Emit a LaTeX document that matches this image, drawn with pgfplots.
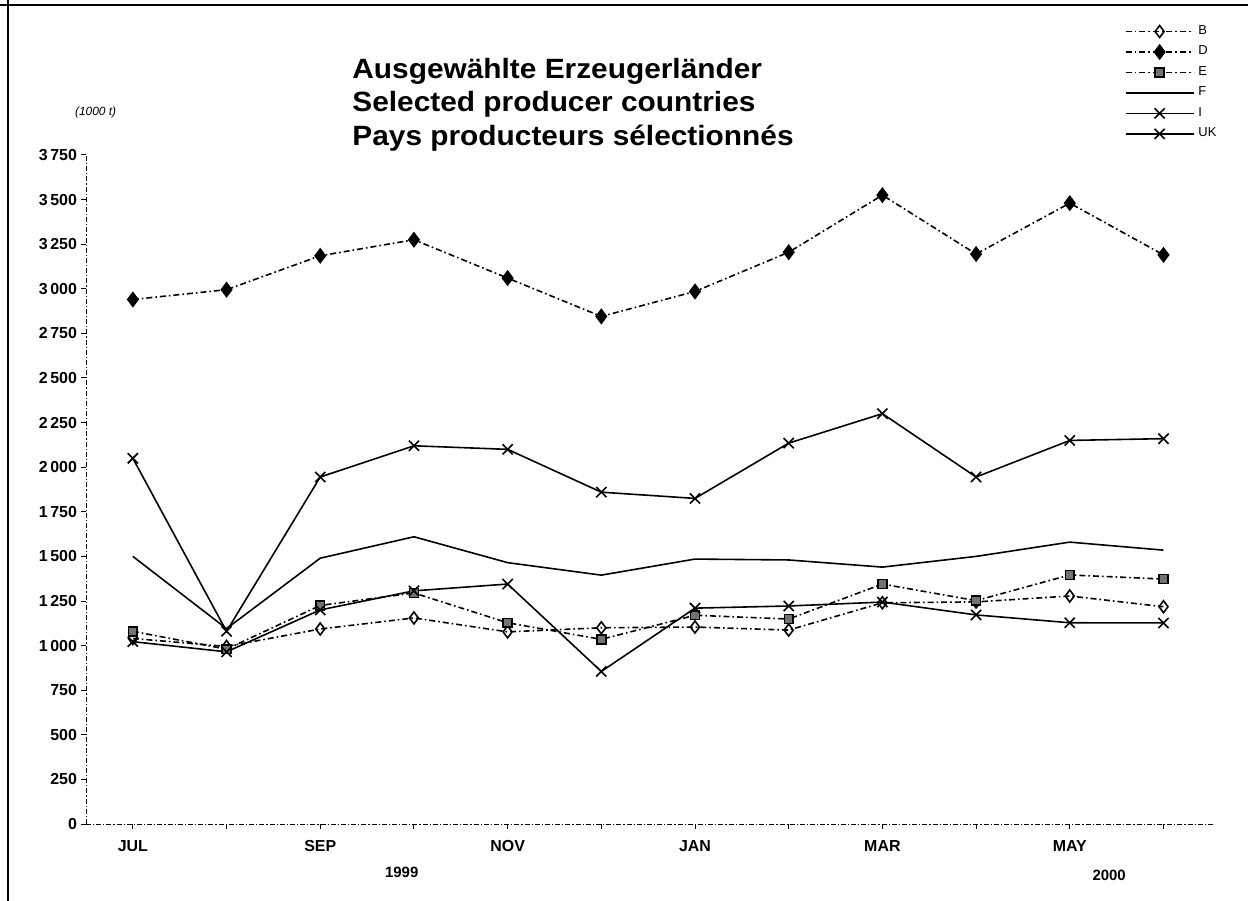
\documentclass[border=0pt]{standalone}
\usepackage{pgfplots}
\pgfplotsset{compat=1.18}
\usepackage{fontspec}
\setmainfont{Liberation Sans}
\setsansfont{Liberation Sans}
\newfontfamily\titlefont[FakeStretch=1.07]{Liberation Sans}
\begin{document}
\begin{tikzpicture}[font=\sffamily]
\useasboundingbox (-43bp,-38.5bp) rectangle (581bp,412bp);
\draw[line width=1pt] (-43bp,409.5bp) -- (581bp,409.5bp);
\draw[line width=1pt] (-39bp,412bp) -- (-39bp,-38.5bp);
\begin{axis}[
  scale only axis, width=564.5bp, height=334.5bp,
  xmin=-0.5, xmax=11.55, ymin=0, ymax=3750,
  axis x line*=bottom, axis y line*=left,
  axis line style={-, line width=0.5pt, dash pattern=on 2.5bp off 1bp on 0.6bp off 1bp},
  ytick={0,250,...,3750},
  xtick={0,...,11},
  xticklabels={JUL,,SEP,,NOV,,JAN,,MAR,,MAY,},
  tick align=outside, major tick length=2.5bp,
  tick style={black, line width=0.5pt},
  /pgf/number format/assume math mode=true,
  /pgf/number format/1000 sep={\,},
  yticklabel style={font=\sffamily\bfseries\fontsize{8}{9}\selectfont, xshift=1.5bp},
  xticklabel style={font=\sffamily\bfseries\fontsize{8}{9}\selectfont, yshift=-2bp},
  clip=false,
  legend style={at={(axis description cs:0.918,1.203)}, anchor=north west, draw=none, fill=none,
    font=\sffamily\fontsize{6.5}{7}\selectfont, row sep=0.3bp, inner sep=1bp},
  legend cell align=left,
  legend image code/.code={\draw[mark repeat=2,mark phase=2] plot coordinates {(0bp,0bp) (17bp,0bp) (34bp,0bp)};},
  every axis plot/.append style={line width=0.8pt, black},
]
\addplot[dash pattern=on 3bp off 1.5bp on 0.8bp off 1.5bp, mark=diamond, mark size=3bp, mark options={solid, fill=white}]
  coordinates {(0,1040)(1,995)(2,1093)(3,1155)(4,1077)(5,1100)(6,1104)(7,1087)(8,1240)(9,1245)(10,1278)(11,1218)};
\addlegendentry{B}
\addplot[dash pattern=on 3bp off 1.5bp on 0.8bp off 1.5bp, mark=diamond*, mark size=3.4bp, mark options={solid, fill=black}]
  coordinates {(0,2940)(1,2995)(2,3185)(3,3275)(4,3060)(5,2845)(6,2985)(7,3205)(8,3525)(9,3195)(10,3480)(11,3190)};
\addlegendentry{D}
\addplot[dash pattern=on 3bp off 1.5bp on 0.8bp off 1.5bp, mark=square*, mark size=2.2bp, mark options={solid, fill=black!55, draw=black}]
  coordinates {(0,1080)(1,980)(2,1225)(3,1295)(4,1128)(5,1035)(6,1170)(7,1149)(8,1345)(9,1252)(10,1396)(11,1373)};
\addlegendentry{E}
\addplot[solid]
  coordinates {(0,1500)(1,1095)(2,1490)(3,1610)(4,1465)(5,1395)(6,1485)(7,1480)(8,1440)(9,1500)(10,1580)(11,1535)};
\addlegendentry{F}
\addplot[solid, mark=x, mark size=3.6bp, mark options={solid}]
  coordinates {(0,2050)(1,1080)(2,1945)(3,2120)(4,2100)(5,1860)(6,1825)(7,2135)(8,2300)(9,1945)(10,2150)(11,2160)};
\addlegendentry{I}
\addplot[solid, mark=x, mark size=3.6bp, mark options={solid}]
  coordinates {(0,1022)(1,965)(2,1200)(3,1307)(4,1345)(5,855)(6,1210)(7,1222)(8,1244)(9,1172)(10,1128)(11,1127)};
\addlegendentry{UK}
\node[font=\sffamily\bfseries\fontsize{7.5}{9}\selectfont] at (axis cs:2.87,0) [yshift=-24bp] {1999};
\node[font=\sffamily\bfseries\fontsize{7.5}{9}\selectfont] at (axis cs:10.42,0) [yshift=-25.5bp] {2000};
\end{axis}
\node[anchor=west, font=\sffamily\itshape\fontsize{6}{7}\selectfont] at (-9bp,356bp) {(1000 t)};
\node[anchor=north west, align=left, inner sep=0pt, font=\titlefont\bfseries\fontsize{14}{16.75}\selectfont] at (133bp,383bp)
  {Ausgewählte Erzeugerländer\\Selected producer countries\\Pays producteurs sélectionnés};
\end{tikzpicture}
\end{document}
